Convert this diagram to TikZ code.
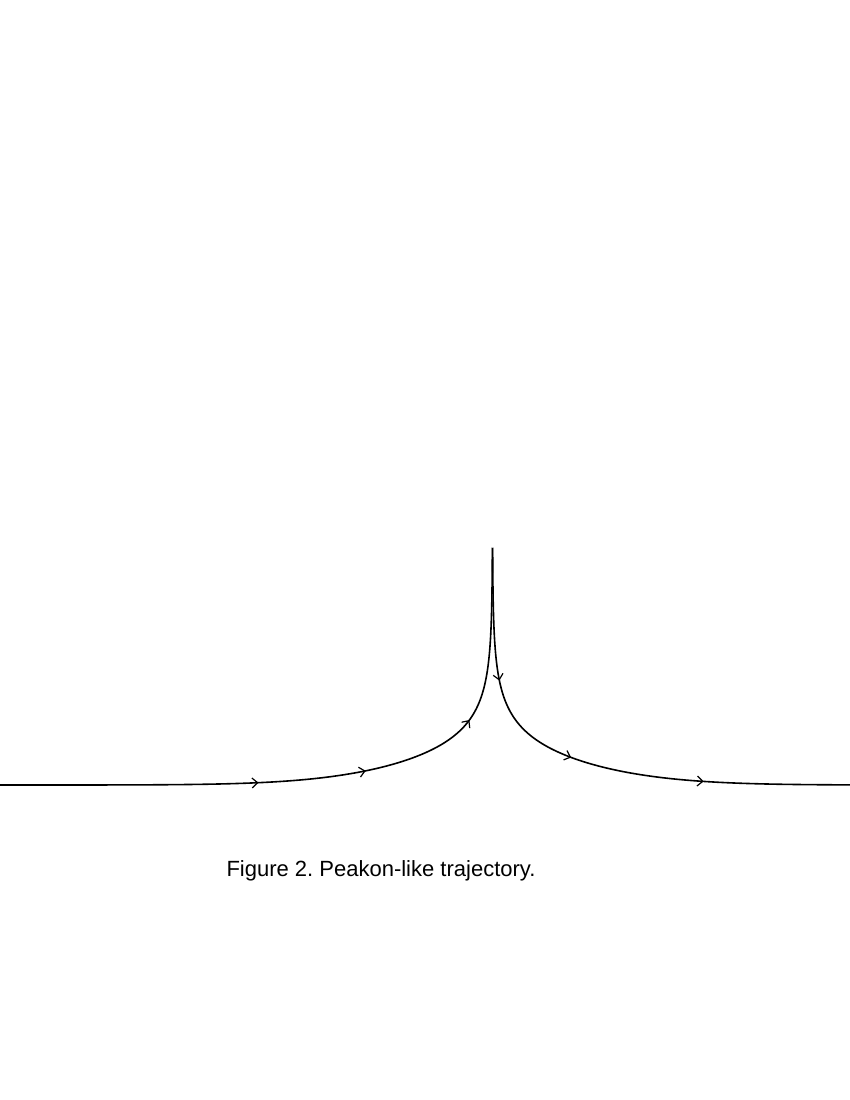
\documentclass[tikz,border=0pt]{standalone}
\usepackage{fontspec}
\setmainfont{Liberation Sans}
\usetikzlibrary{decorations.markings,arrows.meta}
\frenchspacing
\begin{document}
\begin{tikzpicture}[x=1pt,y=-1pt,
  traj/.style={line width=1.6pt, line join=round},
  tip/.tip={Straight Barb[length=5.5pt,width=10pt,line width=1.2pt]},
  declare function={hh(\d)=35*ln(1+130/\d)*exp(-(\d/170)^2);}
]
\useasboundingbox (0,0) rectangle (850,1100);
\coordinate (peak) at (492.5,548);
\coordinate (leftend) at (0,785);
\coordinate (rightend) at (850,785);
% left branch, rising towards the peak
\draw[traj,
  postaction={decorate,decoration={markings,
    mark=at position 259pt with {\arrow{tip}},
    mark=at position 367pt with {\arrow{tip}},
    mark=at position 485pt with {\arrow{tip}}}}]
  (leftend) -- plot[samples=300,domain=6.2:-1.9,variable=\t]
   ({492.5-exp(\t)},{785-hh(exp(\t))}) -- (peak);
% right branch, falling away from the peak
\draw[traj,
  postaction={decorate,decoration={markings,
    mark=at position 133pt with {\arrow{tip}},
    mark=at position 244pt with {\arrow{tip}},
    mark=at position 379pt with {\arrow{tip}}}}]
  (peak) -- plot[samples=300,domain=-1.9:6.1,variable=\t]
   ({492.5+exp(\t)},{785-hh(exp(\t))}) -- (rightend);
\node[font=\fontsize{22}{26}\selectfont, anchor=base] (caption) at (381,876) {Figure 2. Peakon-like trajectory.};
\end{tikzpicture}
\end{document}
